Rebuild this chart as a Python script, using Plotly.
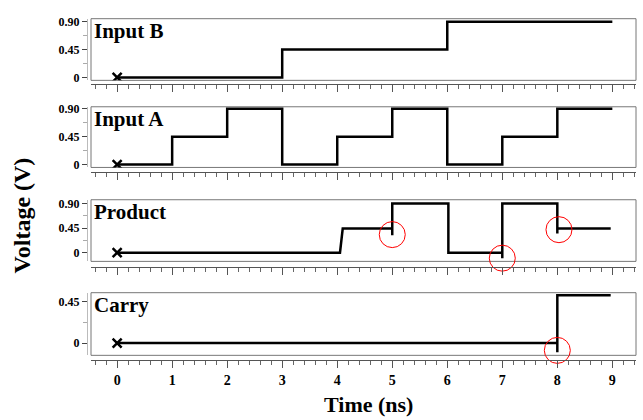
import plotly.graph_objects as go

# ---------------- data ----------------
# Input B (step waveform breakpoints, hv)
b_t = [0, 3, 6, 9]
b_v = [0, 0.45, 0.9, 0.9]
# Input A
a_t = [0, 1, 2, 3, 4, 5, 6, 7, 8, 9]
a_v = [0, 0.45, 0.9, 0, 0.45, 0.9, 0, 0.45, 0.9, 0.9]
# Product (vertices incl. glitches)
p_t = [0, 4.05, 4.1, 5.0, 5.0, 5.0, 6.02, 6.02, 7.0, 7.0, 7.0, 8.0, 8.0, 8.0, 8.97]
p_v = [0, 0, 0.44, 0.44, 0.32, 0.9, 0.9, 0, 0, -0.10, 0.9, 0.9, 0.35, 0.44, 0.44]
# Carry
c_t = [0, 8.0, 8.0, 8.0, 8.97]
c_v = [0, 0, -0.10, 0.52, 0.52]

# highlighted glitches (red circles)
p_glitch_t = [5.0, 7.0, 8.03]
p_glitch_v = [0.33, -0.10, 0.42]
c_glitch_t = [8.0]
c_glitch_v = [-0.08]

panel_names = ["Input B", "Input A", "Product", "Carry"]
x_ticks = [0, 1, 2, 3, 4, 5, 6, 7, 8, 9]

W, H = 643, 420
def py(px):
    return 1 - px / H
def pxx(px):
    return px / W

x_left, x_right = 91, 636
boxes = [(14, 77), (104, 166), (199, 262), (294, 358)]
axis_lines = [81, 171, 267.5, 363]
y_ranges = [
    [-(77 - 74) / 63.3, (74 - 14) / 63.3],
    [-(166 - 163) / 63.3, (163 - 104) / 63.3],
    [-(262.3 - 253.3) / 56.7, (253.3 - 198.5) / 56.7],
    [-(358 - 345.5) / 93.3, (345.5 - 294.3) / 93.3],
]
y_tickvals = [[0, 0.45, 0.9], [0, 0.45, 0.9], [0, 0.45, 0.9], [0, 0.45]]
y_ticktext = [["0", "0.45", "0.90"], ["0", "0.45", "0.90"], ["0", "0.45", "0.90"], ["0", "0.45"]]
x_range = [-0.475, 9.43]

series = [(b_t, b_v, "hv"), (a_t, a_v, "hv"), (p_t, p_v, "linear"), (c_t, c_v, "linear")]

FONT = "Liberation Serif"
fig = go.Figure()
layout = dict(
    width=W, height=H, margin=dict(l=0, r=0, t=0, b=0),
    paper_bgcolor="white", plot_bgcolor="white", showlegend=False,
    font=dict(family=FONT, color="black"),
)
shapes = []
annotations = []
for i in range(4):
    n = "" if i == 0 else str(i + 1)
    xa, ya = "x" + n, "y" + n
    t, v, shape = series[i]
    fig.add_trace(go.Scatter(x=t, y=v, mode="lines", line=dict(color="black", width=2.5, shape=shape),
                             xaxis=xa, yaxis=ya, hoverinfo="skip"))
    fig.add_trace(go.Scatter(x=[t[0]], y=[v[0]], mode="markers",
                             marker=dict(symbol="x-thin", size=9, line=dict(color="black", width=2.5)),
                             xaxis=xa, yaxis=ya))
    top, bot = boxes[i]
    layout["xaxis" + n] = dict(
        domain=[pxx(x_left), pxx(x_right)], range=x_range, anchor="free", position=py(axis_lines[i]),
        showline=True, linecolor="#555", linewidth=1, showgrid=False, zeroline=False,
        ticks="outside", tickvals=x_ticks, ticklen=7, tickcolor="#555", tickwidth=1,
        minor=dict(dtick=0.2, tick0=0, ticks="outside", ticklen=4, tickcolor="#666", tickwidth=1),
        showticklabels=(i == 3),
        tickfont=dict(family=FONT, size=14, weight="bold", color="black"),
    )
    layout["yaxis" + n] = dict(
        domain=[py(bot), py(top)], range=y_ranges[i], anchor="free", position=pxx(87),
        showline=True, linecolor="#bbb", linewidth=1, showgrid=False, zeroline=False,
        ticks="outside", tickvals=y_tickvals[i], ticktext=y_ticktext[i], ticklen=5,
        tickcolor="#444", tickwidth=1,
        minor=dict(dtick=0.225, tick0=0, ticks="outside", ticklen=4, tickcolor="#aaa", tickwidth=1),
        tickfont=dict(family=FONT, size=12, weight="bold", color="black"),
    )
    shapes.append(dict(type="rect", xref="paper", yref="paper",
                       x0=pxx(x_left), x1=pxx(x_right), y0=py(bot), y1=py(top),
                       line=dict(color="#777", width=1), layer="below"))
    annotations.append(dict(text=panel_names[i], xref="x" + n + " domain", yref="y" + n + " domain",
                            x=0, y=1, xanchor="left", yanchor="top", showarrow=False, xshift=1, yshift=2,
                            font=dict(family=FONT, size=21, weight="bold", color="black")))

fig.add_trace(go.Scatter(x=p_glitch_t, y=p_glitch_v, mode="markers", cliponaxis=False,
                         marker=dict(symbol="circle-open", size=26, line=dict(color="red", width=1), color="red"),
                         xaxis="x3", yaxis="y3"))
fig.add_trace(go.Scatter(x=c_glitch_t, y=c_glitch_v, mode="markers", cliponaxis=False,
                         marker=dict(symbol="circle-open", size=26, line=dict(color="red", width=1), color="red"),
                         xaxis="x4", yaxis="y4"))

annotations.append(dict(text="Time (ns)", xref="paper", yref="paper", x=pxx(368), y=py(408),
                        xanchor="center", yanchor="middle", showarrow=False,
                        font=dict(family=FONT, size=22, weight="bold", color="black")))
annotations.append(dict(text="Voltage (V)", xref="paper", yref="paper", x=pxx(22), y=py(215),
                        xanchor="center", yanchor="middle", showarrow=False, textangle=-90,
                        font=dict(family=FONT, size=24, weight="bold", color="black")))
layout["shapes"] = shapes
layout["annotations"] = annotations
fig.update_layout(**layout)
fig.write_html("out.html")
